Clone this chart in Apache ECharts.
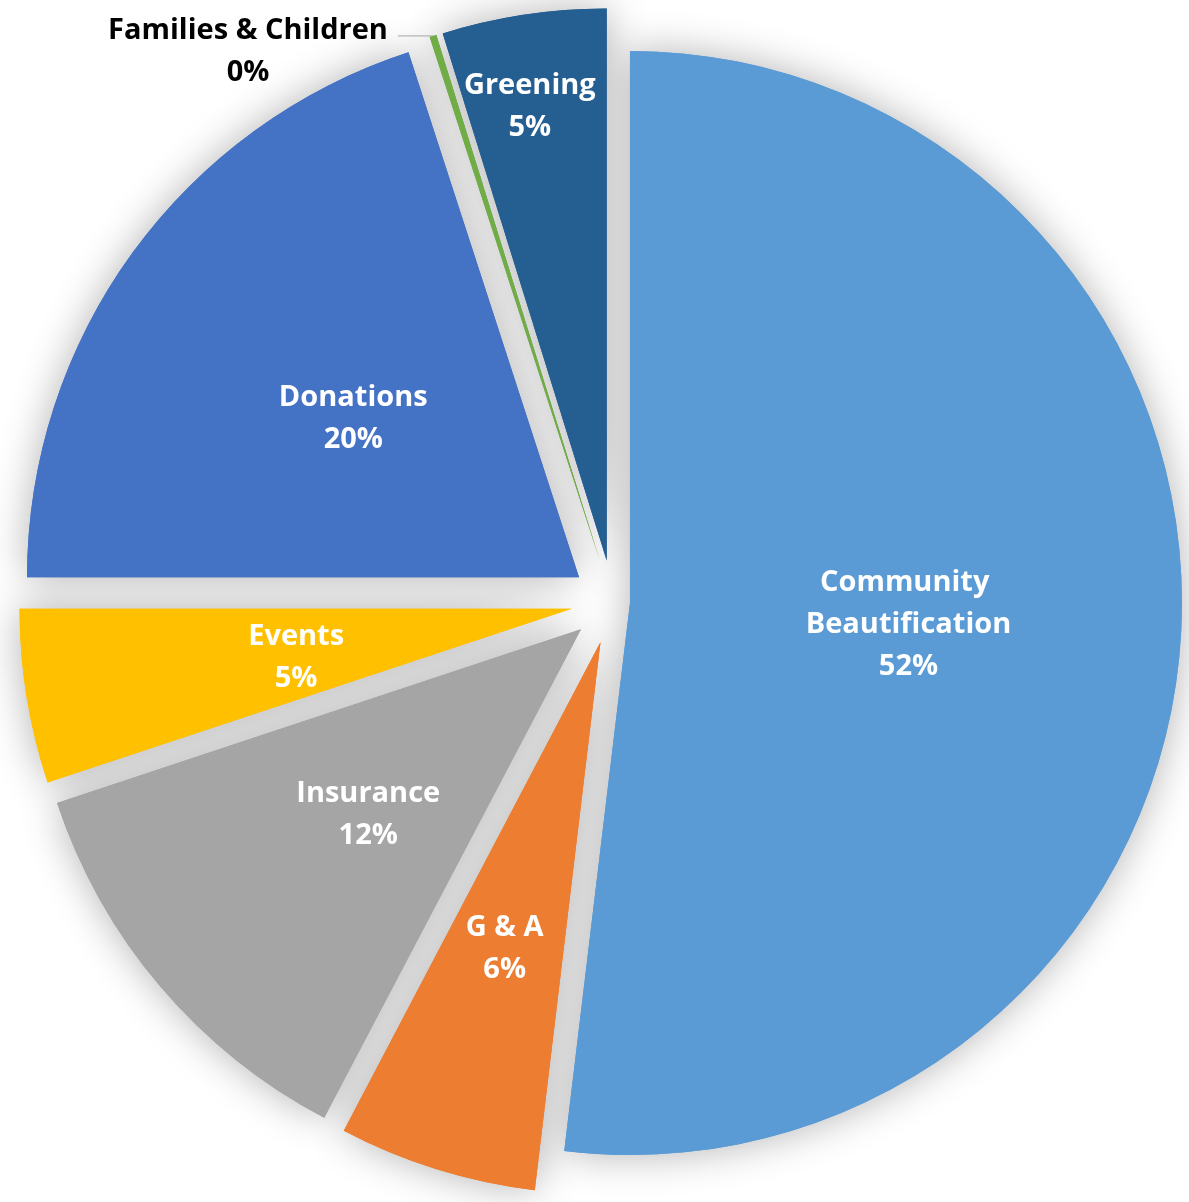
<!DOCTYPE html>
<html>
<head>
<meta charset="utf-8">
<script src="https://cdn.jsdelivr.net/npm/echarts@6/dist/echarts.min.js"></script>
<style>
  html, body { margin: 0; padding: 0; background: #ffffff; }
  #chart { width: 1189px; height: 1202px; }
</style>
</head>
<body>
<div id="chart"></div>
<script>
// Spending by program, share of the total (%)
const categories = ['Community Beautification', 'G & A', 'Insurance', 'Events', 'Donations', 'Families & Children', 'Greening'];
const shares = [51.9, 5.8, 12.2, 5.1, 20.0, 0.2, 4.8];

// ---- styling ----
const sliceColors = ['#5B9BD5', '#ED7D31', '#A5A5A5', '#FFC000', '#4472C4', '#70AD47', '#255E91'];
const FONT = '"Open Sans", Lato, sans-serif';
const FONT_SIZE = 29;
const LINE_H = 42;
const PIE_CENTER = [613, 602];
const PIE_RADIUS = 552;

// How far each slice is pulled away from the centre (px); the big slice sits closer.
const explodeBy = { 'Community Beautification': 17 };
const defaultExplode = 42;

// Inside labels: nudge [dx, dy] in px from the middle of the slice
const defaultShift = [0, 5];
const labelShift = { 'G & A': [-13, 40], 'Greening': [-35, -178] };
// Labels drawn outside the pie with a leader line
const outsideLabels = ['Families & Children'];

const chart = echarts.init(document.getElementById('chart'), null, { renderer: 'canvas' });

function shiftOf(name) { return labelShift[name] || defaultShift; }

function labelText(p) {
  const pctText = Math.round(p.percent) + '%';
  if (outsideLabels.indexOf(p.name) >= 0) {
    return '{sp| }\n{c|' + p.name + '}\n{c|' + pctText + '}';
  }
  let txt = p.name + '\n' + pctText;
  const s = shiftOf(p.name);
  if (s[1] > 0) txt = '{sp| }\n' + txt;
  if (s[1] < 0) txt = txt + '\n{sp| }';
  return txt;
}

// slices grouped by explode distance: one pie series per distance
const groups = {};
categories.forEach(function (name) {
  const off = explodeBy[name] != null ? explodeBy[name] : defaultExplode;
  (groups[off] = groups[off] || []).push(name);
});

function itemLabel(name) {
  if (outsideLabels.indexOf(name) >= 0) {
    return {
      show: true,
      position: 'outside',
      color: '#000000',
      distanceToLabelLine: 5,
      rich: {
        sp: { lineHeight: 32, height: 32, fontSize: 10 },
        c: { width: 290, align: 'center', color: '#000000', fontFamily: FONT, fontWeight: 'bold', fontSize: FONT_SIZE, lineHeight: LINE_H }
      }
    };
  }
  const s = shiftOf(name);
  const h = 2 * Math.abs(s[1]);
  const lab = {
    padding: [0, s[0] < 0 ? -2 * s[0] : 0, 0, s[0] > 0 ? 2 * s[0] : 0],
    rich: { sp: { lineHeight: h, height: h, fontSize: 8 } }
  };
  if (name.length > 20) { lab.width = 240; lab.overflow = 'break'; }
  return lab;
}

function pieLayer(offset, members, shadowPass) {
  return {
    type: 'pie',
    center: PIE_CENTER,
    radius: PIE_RADIUS,
    startAngle: 90,
    clockwise: true,
    selectedMode: 'multiple',
    selectedOffset: offset,
    avoidLabelOverlap: false,
    animation: false,
    silent: true,
    z: shadowPass ? 1 : 2,
    emphasis: { disabled: true },
    label: {
      show: !shadowPass,
      position: 'inside',
      formatter: labelText,
      color: '#ffffff',
      fontFamily: FONT,
      fontWeight: 'bold',
      fontSize: FONT_SIZE,
      lineHeight: LINE_H
    },
    labelLine: { show: false },
    data: categories.map(function (name, i) {
      const on = members.indexOf(name) >= 0;
      const item = {
        name: name,
        value: shares[i],
        selected: true,
        itemStyle: { color: on ? sliceColors[i] : 'transparent', borderWidth: 0 }
      };
      if (shadowPass && on) {
        item.itemStyle.shadowBlur = 40;
        item.itemStyle.shadowColor = 'rgba(0,0,0,0.30)';
      }
      if (!on || shadowPass) {
        item.label = { show: false };
      } else {
        item.label = itemLabel(name);
        if (outsideLabels.indexOf(name) >= 0) {
          item.labelLine = { show: true, length: 0, length2: 35, lineStyle: { color: '#a6a6a6', width: 1 } };
        }
      }
      return item;
    })
  };
}

const series = [];
Object.keys(groups).forEach(function (off) { series.push(pieLayer(+off, groups[off], true)); });
Object.keys(groups).forEach(function (off) { series.push(pieLayer(+off, groups[off], false)); });

chart.setOption({
  backgroundColor: '#ffffff',
  animation: false,
  series: series
});
</script>
</body>
</html>
